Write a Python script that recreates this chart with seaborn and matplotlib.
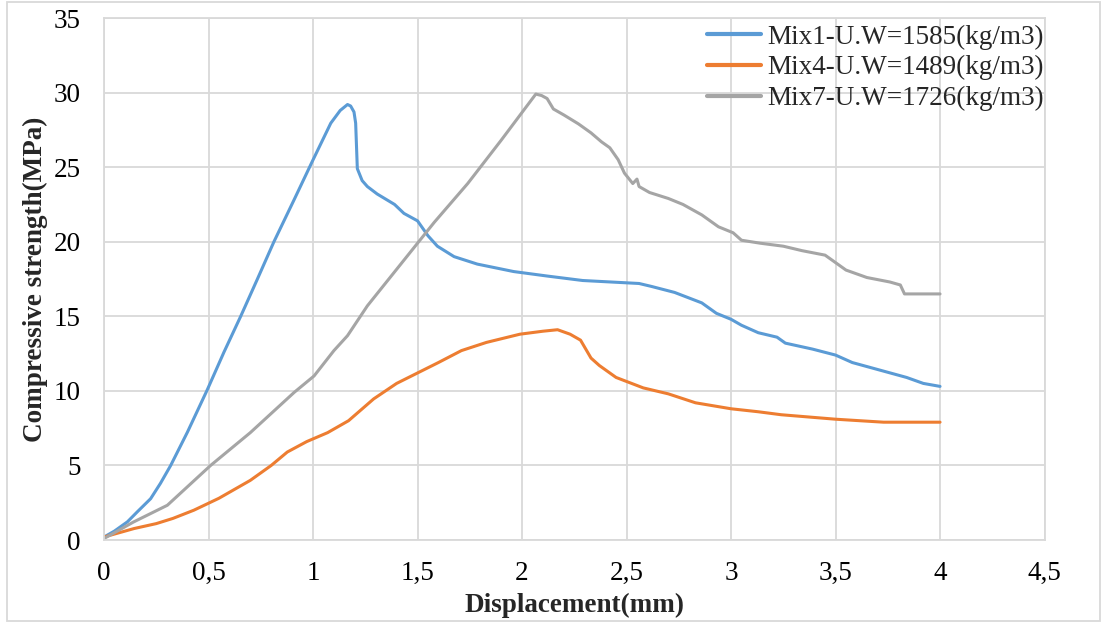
import matplotlib
matplotlib.use("Agg")
import matplotlib.pyplot as plt
import seaborn as sns
import pandas as pd
from matplotlib.patches import Rectangle

# Load-displacement readings for the three mixes
mix1_x = [0, 0.05, 0.112, 0.16, 0.223, 0.27, 0.319, 0.399, 0.495, 0.574, 0.654,
          0.734, 0.813, 0.909, 0.997, 1.085, 1.13, 1.165, 1.18, 1.196, 1.204,
          1.212, 1.235, 1.26, 1.307, 1.39, 1.435, 1.50, 1.55, 1.595, 1.675, 1.786,
          1.96, 2.12, 2.29, 2.56, 2.62, 2.73, 2.86, 2.93, 3.0, 3.05, 3.13, 3.22,
          3.26, 3.39, 3.50, 3.58, 3.71, 3.84, 3.92, 4.0]
mix1_y = [0.2, 0.6, 1.22, 1.9, 2.77, 3.8, 5.0, 7.23, 10.1, 12.6, 15.0,
          17.5, 20.0, 22.8, 25.4, 27.95, 28.8, 29.2, 29.1, 28.7, 27.95,
          24.9, 24.1, 23.7, 23.2, 22.5, 21.9, 21.4, 20.4, 19.7, 19.0, 18.5,
          18.0, 17.7, 17.4, 17.2, 17.0, 16.6, 15.9, 15.2, 14.8, 14.4, 13.9, 13.6,
          13.2, 12.8, 12.4, 11.9, 11.4, 10.9, 10.5, 10.3]

mix4_x = [0, 0.05, 0.144, 0.25, 0.33, 0.43, 0.55, 0.70, 0.80, 0.877, 0.97, 1.07,
          1.17, 1.29, 1.40, 1.50, 1.60, 1.71, 1.83, 1.99, 2.10, 2.17, 2.23, 2.28,
          2.33, 2.37, 2.45, 2.58, 2.70, 2.83, 3.0, 3.13, 3.24, 3.50, 3.73, 4.0]
mix4_y = [0.2, 0.4, 0.77, 1.1, 1.45, 2.0, 2.8, 4.0, 5.0, 5.9, 6.6, 7.2,
          8.0, 9.46, 10.5, 11.2, 11.9, 12.7, 13.25, 13.8, 14.0, 14.1, 13.8, 13.4,
          12.2, 11.7, 10.9, 10.2, 9.8, 9.2, 8.8, 8.6, 8.4, 8.1, 7.9, 7.9]

mix7_x = [0, 0.14, 0.303, 0.51, 0.70, 0.91, 1.005, 1.10, 1.165, 1.26, 1.42, 1.58,
          1.74, 1.90, 2.066, 2.094, 2.12, 2.15, 2.20, 2.27, 2.33, 2.38, 2.42, 2.46,
          2.49, 2.53, 2.55, 2.56, 2.61, 2.70, 2.77, 2.86, 2.94, 3.01, 3.05, 3.14,
          3.25, 3.34, 3.45, 3.50, 3.55, 3.65, 3.76, 3.81, 3.83, 3.87, 4.0]
mix7_y = [0.1, 1.2, 2.33, 5.0, 7.2, 9.9, 11.0, 12.7, 13.7, 15.7, 18.5, 21.3,
          23.9, 26.8, 29.9, 29.8, 29.6, 28.9, 28.5, 27.9, 27.3, 26.7, 26.3, 25.5,
          24.6, 23.9, 24.2, 23.7, 23.3, 22.9, 22.5, 21.8, 21.0, 20.6, 20.1, 19.9,
          19.7, 19.4, 19.1, 18.6, 18.1, 17.6, 17.3, 17.1, 16.5, 16.5, 16.5]

labels = ["Mix1-U.W=1585(kg/m3)", "Mix4-U.W=1489(kg/m3)", "Mix7-U.W=1726(kg/m3)"]
colors = ["#5B9BD5", "#ED7D31", "#A5A5A5"]

x_ticks = [0, 0.5, 1, 1.5, 2, 2.5, 3, 3.5, 4, 4.5]
y_ticks = [0, 5, 10, 15, 20, 25, 30, 35]

frames = []
for lab, xs, ys in zip(labels, [mix1_x, mix4_x, mix7_x], [mix1_y, mix4_y, mix7_y]):
    frames.append(pd.DataFrame({"Displacement": xs, "Strength": ys, "Mix": lab}))
df = pd.concat(frames, ignore_index=True)

sns.set_theme(style="white")
plt.rcParams["font.family"] = ["Liberation Serif", "DejaVu Serif"]

fs = 19.5
fig = plt.figure(figsize=(11.03, 6.23), dpi=100)
ax = fig.add_axes([0.0943, 0.1332, 0.8527, 0.8379])

sns.lineplot(data=df, x="Displacement", y="Strength", hue="Mix",
             palette=dict(zip(labels, colors)), hue_order=labels,
             estimator=None, sort=False, linewidth=2.2, ax=ax)

ax.set_xlim(0, 4.5)
ax.set_ylim(0, 35)
ax.set_xticks(x_ticks)
ax.set_xticklabels([f"{v:g}".replace(".", ",") for v in x_ticks])
ax.set_yticks(y_ticks)
ax.set_yticklabels([str(v) for v in y_ticks])
ax.tick_params(axis="both", length=0, labelsize=fs, colors="black")
ax.tick_params(axis="y", pad=17)
ax.tick_params(axis="x", pad=15)

ax.grid(True, color="#D9D9D9", linewidth=1.3)
ax.set_axisbelow(True)
for sp in ax.spines.values():
    sp.set_color("#D9D9D9")
    sp.set_linewidth(1.3)

ax.set_xlabel("Displacement(mm)", fontsize=fs, fontweight="bold", labelpad=5)
ax.set_ylabel("Compressive strength(MPa)", fontsize=fs, fontweight="bold", labelpad=4)

leg = ax.legend(loc="upper right", bbox_to_anchor=(1.006, 1.0), frameon=False,
                fontsize=fs, handlelength=2.0, handletextpad=0.2,
                labelspacing=0.2, borderpad=0.25, borderaxespad=0.0)
for line in leg.get_lines():
    line.set_linewidth(3)

fig.patches.append(Rectangle((0.006, 0.003), 0.991, 0.994, transform=fig.transFigure,
                             fill=False, edgecolor="#D9D9D9", linewidth=1.3))

fig.savefig("out.png", dpi=100)
